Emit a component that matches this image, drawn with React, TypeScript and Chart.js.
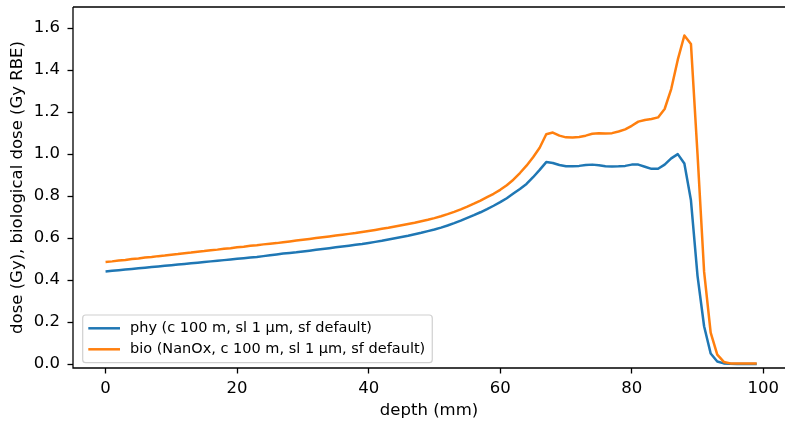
import React, { useEffect, useRef } from "react";
import { Chart, registerables } from "chart.js";

Chart.register(...registerables);

const FONT = "'DejaVu Sans', 'Liberation Sans', sans-serif";

const depth = [
  0, 1, 2, 3, 4, 5, 6, 7, 8, 9,
  10, 11, 12, 13, 14, 15, 16, 17, 18, 19,
  20, 21, 22, 23, 24, 25, 26, 27, 28, 29,
  30, 31, 32, 33, 34, 35, 36, 37, 38, 39,
  40, 41, 42, 43, 44, 45, 46, 47, 48, 49,
  50, 51, 52, 53, 54, 55, 56, 57, 58, 59,
  60, 61, 62, 63, 64, 65, 66, 67, 68, 69,
  70, 71, 72, 73, 74, 75, 76, 77, 78, 79,
  80, 81, 82, 83, 84, 85, 86, 87, 88, 89,
  90, 91, 92, 93, 94, 95, 96, 97, 98, 99,
];

const phyDose = [
  0.441, 0.444, 0.447, 0.45, 0.453, 0.456, 0.459, 0.462, 0.465, 0.468,
  0.471, 0.474, 0.477, 0.48, 0.483, 0.486, 0.489, 0.492, 0.495, 0.498,
  0.501, 0.504, 0.507, 0.51, 0.514, 0.518, 0.522, 0.526, 0.529, 0.532,
  0.536, 0.54, 0.544, 0.548, 0.552, 0.556, 0.56, 0.564, 0.568, 0.572,
  0.577, 0.582, 0.587, 0.593, 0.599, 0.605, 0.611, 0.618, 0.625, 0.633,
  0.641, 0.65, 0.66, 0.671, 0.683, 0.696, 0.709, 0.723, 0.738, 0.754,
  0.771, 0.79, 0.812, 0.834, 0.858, 0.89, 0.925, 0.962, 0.958, 0.948,
  0.942, 0.942, 0.944, 0.948, 0.95, 0.947, 0.942, 0.941, 0.942, 0.944,
  0.95, 0.95, 0.94, 0.93, 0.93, 0.95, 0.98, 1.0, 0.955, 0.78,
  0.42, 0.18, 0.05, 0.012, 0.003, 0.001, 0.0, 0.0, 0.0, 0.0,
];

const bioDose = [
  0.486, 0.489, 0.493, 0.496, 0.5, 0.503, 0.507, 0.51, 0.514, 0.517,
  0.521, 0.524, 0.528, 0.531, 0.535, 0.538, 0.542, 0.545, 0.549, 0.552,
  0.556, 0.559, 0.563, 0.566, 0.57, 0.573, 0.576, 0.58, 0.584, 0.588,
  0.592, 0.596, 0.6, 0.604, 0.608, 0.612, 0.616, 0.62, 0.624, 0.629,
  0.634, 0.639, 0.644, 0.649, 0.655, 0.661, 0.667, 0.673, 0.68, 0.687,
  0.695, 0.704, 0.714, 0.725, 0.737, 0.75, 0.764, 0.779, 0.795, 0.811,
  0.83, 0.852, 0.878, 0.91, 0.945, 0.985, 1.03, 1.095, 1.103, 1.088,
  1.08, 1.079, 1.082, 1.088, 1.097, 1.099, 1.098, 1.1, 1.108, 1.118,
  1.135, 1.155, 1.163, 1.167, 1.175, 1.215, 1.31, 1.45, 1.565, 1.525,
  1.0, 0.44, 0.15, 0.045, 0.01, 0.003, 0.002, 0.002, 0.002, 0.002,
];

const seriesLabels = [
  "phy (c 100 m, sl 1 µm, sf default)",
  "bio (NanOx, c 100 m, sl 1 µm, sf default)",
];
const seriesColors = ["#1f77b4", "#ff7f0e"];

const xTickValues = [0, 20, 40, 60, 80, 100];
const yTickValues = [0, 0.2, 0.4, 0.6, 0.8, 1.0, 1.2, 1.4, 1.6];

const xTitle = "depth (mm)";
const yTitle = "dose (Gy), biological dose (Gy RBE)";

const framePlugin = {
  id: "mplFrame",
  afterDatasetsDraw(chart: any) {
    const { ctx, chartArea } = chart;
    const { left, top, right, bottom } = chartArea;
    ctx.save();
    ctx.strokeStyle = "#000";
    ctx.lineWidth = 1.3;
    ctx.beginPath();
    ctx.moveTo(left, top);
    ctx.lineTo(right, top);
    ctx.moveTo(left, top);
    ctx.lineTo(left, bottom);
    ctx.lineTo(right, bottom);
    ctx.stroke();
    ctx.restore();
  },
};

const legendPlugin = {
  id: "mplLegend",
  afterDraw(chart: any) {
    const { ctx, chartArea } = chart;
    const datasets = chart.data.datasets;
    ctx.save();
    ctx.font = `14.5px ${FONT}`;
    const boxLeft = chartArea.left + 9.7;
    const boxBottom = chartArea.bottom - 5.3;
    const rowGap = 21;
    const boxH = 47.7;
    const boxTop = boxBottom - boxH;
    const textX = boxLeft + 47.3;
    let maxW = 0;
    datasets.forEach((d: any) => {
      maxW = Math.max(maxW, ctx.measureText(d.label).width);
    });
    const boxRight = textX + maxW + 7;
    const r = 3;
    ctx.beginPath();
    ctx.moveTo(boxLeft + r, boxTop);
    ctx.lineTo(boxRight - r, boxTop);
    ctx.arcTo(boxRight, boxTop, boxRight, boxTop + r, r);
    ctx.lineTo(boxRight, boxBottom - r);
    ctx.arcTo(boxRight, boxBottom, boxRight - r, boxBottom, r);
    ctx.lineTo(boxLeft + r, boxBottom);
    ctx.arcTo(boxLeft, boxBottom, boxLeft, boxBottom - r, r);
    ctx.lineTo(boxLeft, boxTop + r);
    ctx.arcTo(boxLeft, boxTop, boxLeft + r, boxTop, r);
    ctx.closePath();
    ctx.fillStyle = "rgba(255,255,255,0.8)";
    ctx.fill();
    ctx.strokeStyle = "#d0d0d0";
    ctx.lineWidth = 1.2;
    ctx.stroke();

    datasets.forEach((d: any, i: number) => {
      const y = boxTop + 13.3 + i * rowGap;
      ctx.strokeStyle = d.borderColor;
      ctx.lineWidth = 2.5;
      ctx.beginPath();
      ctx.moveTo(boxLeft + 5.6, y);
      ctx.lineTo(boxLeft + 37.3, y);
      ctx.stroke();
      ctx.fillStyle = "#000";
      ctx.textBaseline = "middle";
      ctx.textAlign = "left";
      ctx.fillText(d.label, textX, y);
    });
    ctx.restore();
  },
};

export default function App() {
  const canvasRef = useRef<HTMLCanvasElement | null>(null);

  useEffect(() => {
    const canvas = canvasRef.current;
    if (!canvas) return;
    const series = [phyDose, bioDose];
    const chart = new Chart(canvas, {
      type: "line",
      data: {
        datasets: series.map((vals, si) => ({
          label: seriesLabels[si],
          data: vals.map((v, i) => ({ x: depth[i], y: v })),
          borderColor: seriesColors[si],
          backgroundColor: seriesColors[si],
          borderWidth: 2.5,
          pointRadius: 0,
          pointHoverRadius: 0,
          tension: 0,
          fill: false,
          borderJoinStyle: "round" as const,
          order: si === 0 ? 1 : 0,
        })),
      },
      options: {
        animation: false,
        responsive: false,
        devicePixelRatio: 1,
        events: [],
        layout: { padding: { top: 7, left: 0, right: 0, bottom: 0 } },
        plugins: {
          legend: { display: false },
          tooltip: { enabled: false },
        },
        scales: {
          x: {
            type: "linear",
            min: -4.95,
            max: 103.3,
            afterBuildTicks: (s: any) => {
              s.ticks = xTickValues.map((v) => ({ value: v }));
            },
            afterFit: (s: any) => {
              s.height = 53;
              s.paddingLeft = 0;
              s.paddingRight = 0;
            },
            grid: {
              drawOnChartArea: false,
              drawTicks: true,
              tickLength: 5.5,
              tickWidth: 1.3,
              tickColor: "#000",
            },
            border: { display: false },
            ticks: {
              color: "#000",
              font: { family: FONT, size: 16.5 },
              padding: 5,
              maxRotation: 0,
              autoSkip: false,
              callback: (v: any) => String(v),
            },
            title: {
              display: true,
              text: xTitle,
              color: "#000",
              font: { family: FONT, size: 16.5 },
              padding: { top: 0, bottom: 0 },
            },
          },
          y: {
            type: "linear",
            min: -0.019,
            max: 1.701,
            afterBuildTicks: (s: any) => {
              s.ticks = yTickValues.map((v) => ({ value: v }));
            },
            afterFit: (s: any) => {
              s.width = 73;
              s.paddingTop = 0;
              s.paddingBottom = 0;
            },
            grid: {
              drawOnChartArea: false,
              drawTicks: true,
              tickLength: 5.5,
              tickWidth: 1.3,
              tickColor: "#000",
            },
            border: { display: false },
            ticks: {
              color: "#000",
              font: { family: FONT, size: 16.5 },
              padding: 7.5,
              autoSkip: false,
              callback: (v: any) => Number(v).toFixed(1),
            },
            title: {
              display: true,
              text: yTitle,
              color: "#000",
              font: { family: FONT, size: 16.5 },
              padding: { top: 8.3, bottom: 0 },
            },
          },
        },
      },
      plugins: [framePlugin, legendPlugin],
    } as any);
    return () => chart.destroy();
  }, []);

  return (
    <div style={{ position: "absolute", left: 0, top: 0, width: 785, height: 421, background: "#fff" }}>
      <canvas ref={canvasRef} width={785} height={421} style={{ display: "block" }} />
    </div>
  );
}
